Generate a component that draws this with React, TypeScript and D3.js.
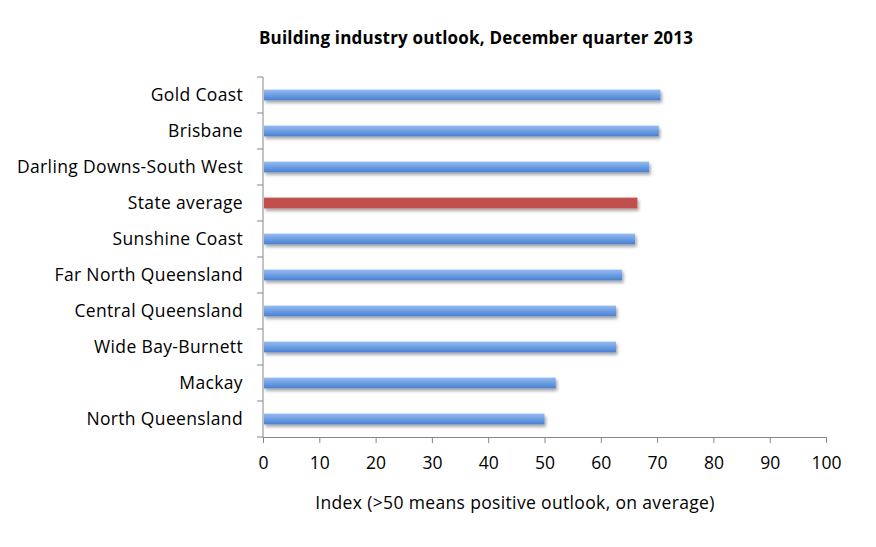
import React, { useEffect, useRef } from 'react';
import * as d3 from 'd3';

const regions = [
  'Gold Coast',
  'Brisbane',
  'Darling Downs-South West',
  'State average',
  'Sunshine Coast',
  'Far North Queensland',
  'Central Queensland',
  'Wide Bay-Burnett',
  'Mackay',
  'North Queensland',
];
const indexValues = [70.6, 70.3, 68.6, 66.5, 66.1, 63.8, 62.7, 62.7, 52.0, 50.0];
const highlight = 'State average';
const xTicks = [0, 10, 20, 30, 40, 50, 60, 70, 80, 90, 100];

const width = 876;
const height = 547;
const font = '"Open Sans", sans-serif';

const App: React.FC = () => {
  const svgRef = useRef<SVGSVGElement>(null);

  useEffect(() => {
    document.body.style.margin = '0';
    if (!svgRef.current) return;
    const svg = d3.select(svgRef.current);
    svg.selectAll('*').remove();

    const margin = { top: 77, right: 50, bottom: 110, left: 263 };
    const innerWidth = width - margin.left - margin.right;
    const innerHeight = height - margin.top - margin.bottom;

    const defs = svg.append('defs');
    const grad = defs
      .append('linearGradient')
      .attr('id', 'blueBar')
      .attr('x1', 0).attr('y1', 0).attr('x2', 0).attr('y2', 1);
    grad.append('stop').attr('offset', '0%').attr('stop-color', '#95bbf0');
    grad.append('stop').attr('offset', '55%').attr('stop-color', '#6a9be2');
    grad.append('stop').attr('offset', '100%').attr('stop-color', '#4a7fcf');

    const shadow = defs
      .append('filter')
      .attr('id', 'barShadow')
      .attr('x', '-5%').attr('y', '-50%').attr('width', '110%').attr('height', '220%');
    shadow
      .append('feDropShadow')
      .attr('dx', 1.5).attr('dy', 2.5)
      .attr('stdDeviation', 1.5)
      .attr('flood-color', '#000')
      .attr('flood-opacity', 0.35);

    const g = svg.append('g').attr('transform', `translate(${margin.left},${margin.top})`);

    const x = d3.scaleLinear().domain([0, 100]).range([0, innerWidth]);
    const y = d3.scaleBand<string>().domain(regions).range([0, innerHeight]).paddingInner(0.7).paddingOuter(0.35);
    const band = d3.scaleBand<string>().domain(regions).range([0, innerHeight]);

    // Bars
    g.selectAll('.bar')
      .data(regions)
      .enter()
      .append('rect')
      .attr('class', 'bar')
      .attr('x', 1)
      .attr('y', d => y(d)!)
      .attr('width', (d, i) => x(indexValues[i]) - 1)
      .attr('height', y.bandwidth())
      .attr('fill', d => (d === highlight ? '#c0504d' : 'url(#blueBar)'))
      .attr('filter', 'url(#barShadow)');

    const axisColor = '#868686';

    // Y axis: line plus ticks between categories
    g.append('line')
      .attr('x1', 0).attr('x2', 0).attr('y1', 0).attr('y2', innerHeight)
      .attr('stroke', axisColor);
    const boundaries = regions.map(d => band(d)!).concat([innerHeight]);
    g.selectAll('.ytick')
      .data(boundaries)
      .enter()
      .append('line')
      .attr('x1', -6).attr('x2', 0)
      .attr('y1', d => d).attr('y2', d => d)
      .attr('stroke', axisColor);

    g.selectAll('.ylabel')
      .data(regions)
      .enter()
      .append('text')
      .attr('x', -20)
      .attr('y', d => band(d)! + band.bandwidth() / 2)
      .attr('dy', '0.35em')
      .attr('text-anchor', 'end')
      .style('font-family', font)
      .style('font-size', '17.5px')
      .style('letter-spacing', '0.35px')
      .style('fill', '#000')
      .text(d => d);

    // X axis
    const xAxis = g
      .append('g')
      .attr('transform', `translate(0,${innerHeight})`)
      .call(d3.axisBottom(x).tickValues(xTicks).tickSize(6).tickSizeOuter(0).tickPadding(14));
    xAxis.select('.domain').attr('stroke', axisColor);
    xAxis.selectAll('.tick line').attr('stroke', axisColor);
    xAxis
      .selectAll('.tick text')
      .style('font-family', font)
      .style('font-size', '17.5px')
      .style('fill', '#000');

    // Axis title
    svg
      .append('text')
      .attr('x', 515)
      .attr('y', 509)
      .attr('text-anchor', 'middle')
      .style('font-family', font)
      .style('font-size', '17.5px')
      .style('letter-spacing', '0.35px')
      .text('Index (>50 means positive outlook, on average)');

    // Chart title
    svg
      .append('text')
      .attr('x', 476)
      .attr('y', 44)
      .attr('text-anchor', 'middle')
      .style('font-family', font)
      .style('font-size', '17px')
      .style('letter-spacing', '0.2px')
      .style('font-weight', 'bold')
      .text('Building industry outlook, December quarter 2013');
  }, []);

  return <svg ref={svgRef} width={width} height={height} style={{ display: 'block', background: '#fff' }} />;
};

export default App;
